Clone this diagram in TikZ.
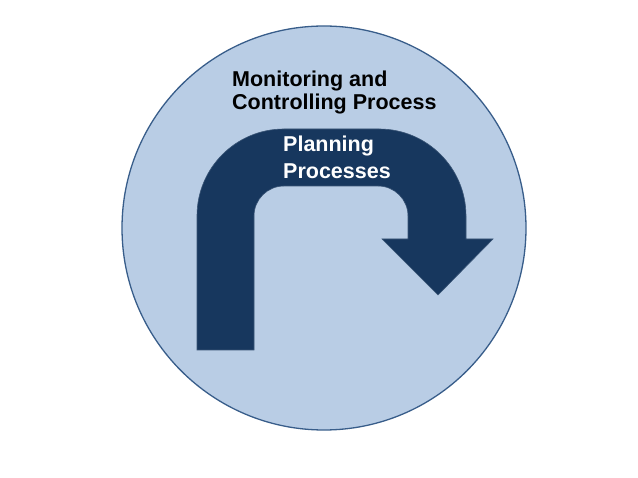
\documentclass[tikz,border=0pt]{standalone}
\usepackage{fontspec}
\setmainfont{Liberation Sans}
\definecolor{ringfill}{HTML}{B9CDE5}
\definecolor{ringline}{HTML}{385D8A}
\definecolor{arrowblue}{HTML}{17375E}
\begin{document}
\begin{tikzpicture}[x=1pt, y=-1pt]
  % Define styles
  \tikzset{
    ring/.style={fill=ringfill, draw=ringline, line width=1.3pt},
    uturn/.style={fill=arrowblue, draw=arrowblue!85!white, line width=0.6pt},
    label/.style={font=\fontsize{21.5}{23.4}\selectfont\bfseries, align=left, inner sep=0pt, anchor=base west}
  }
  \useasboundingbox (0,0) rectangle (638,478);

  % Outer circle
  \draw [ring] (324,228) circle [radius=202];

  % U-turn arrow
  \path [uturn] (197,350) [rounded corners=87pt] -- (197,129) -- (466,129)
    [sharp corners] -- (466,239) -- (493,239) -- (438,295) -- (382,239) -- (408,239)
    [rounded corners=30pt] -- (408,186) -- (254,186) [sharp corners] -- (254,350) -- cycle;

  % Labels (base is the last line)
  \node [label] (monitoring) at (232,109.5) {Monitoring and\\Controlling Process};
  \node [label, text=white, font=\fontsize{21.5}{26.6}\selectfont\bfseries] (planning) at (283,178.5) {Planning\\Processes};
\end{tikzpicture}
\end{document}
